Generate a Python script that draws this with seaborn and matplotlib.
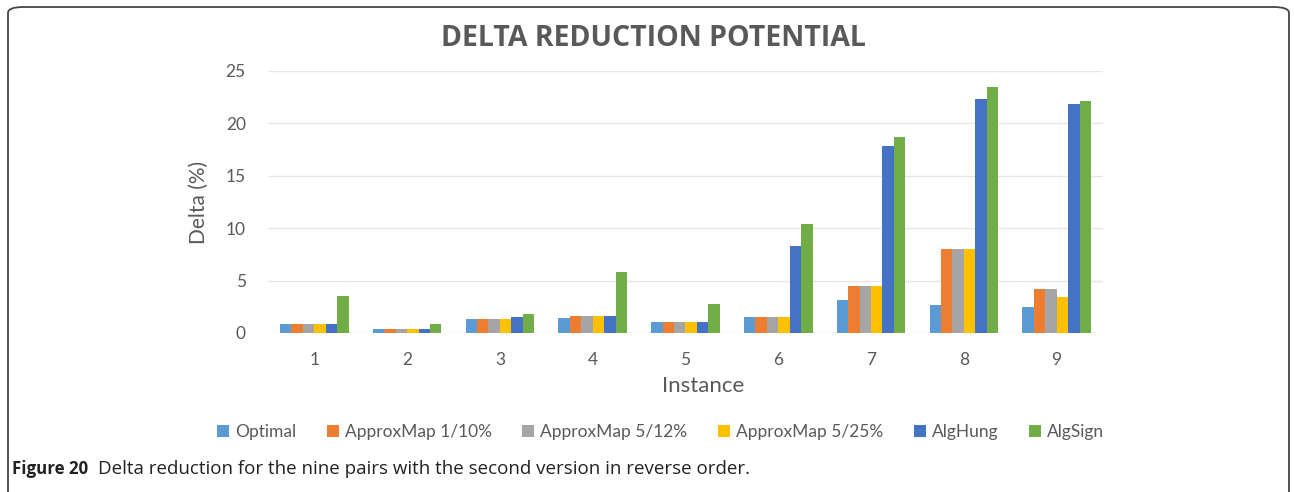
import pandas as pd
import seaborn as sns
import matplotlib.pyplot as plt
from matplotlib.patches import FancyBboxPatch

# Valeurs (Delta en %)
instances = ["1", "2", "3", "4", "5", "6", "7", "8", "9"]
optimal = [0.9, 0.41, 1.37, 1.43, 1.02, 1.56, 3.18, 2.68, 2.45]
approx_1_10 = [0.9, 0.41, 1.37, 1.66, 1.02, 1.56, 4.49, 7.99, 4.24]
approx_5_12 = [0.9, 0.41, 1.37, 1.66, 1.02, 1.56, 4.49, 7.99, 4.24]
approx_5_25 = [0.9, 0.41, 1.37, 1.66, 1.02, 1.56, 4.49, 7.99, 3.44]
alg_hung = [0.9, 0.41, 1.56, 1.66, 1.02, 8.28, 17.87, 22.32, 21.88]
alg_sign = [3.57, 0.89, 1.82, 5.86, 2.77, 10.41, 18.69, 23.47, 22.1]

series = {
    "Optimal": optimal,
    "ApproxMap 1/10%": approx_1_10,
    "ApproxMap 5/12%": approx_5_12,
    "ApproxMap 5/25%": approx_5_25,
    "AlgHung": alg_hung,
    "AlgSign": alg_sign,
}
colors = ["#5B9BD5", "#ED7D31", "#A5A5A5", "#FFC000", "#4472C4", "#70AD47"]

rows = []
for name, vals in series.items():
    for inst, v in zip(instances, vals):
        rows.append({"Instance": inst, "Delta": v, "Method": name})
df = pd.DataFrame(rows)

sns.set_style("white")
plt.rcParams["font.family"] = ["Lato", "DejaVu Sans"]
text_col = "#595959"

fig = plt.figure(figsize=(12.94, 4.92), dpi=100)
ax = fig.add_axes([0.2071, 0.3232, 0.6453, 0.5325])

sns.barplot(data=df, x="Instance", y="Delta", hue="Method",
            palette=colors, width=0.74, gap=0, saturation=1,
            linewidth=0, ax=ax, legend=True)

ax.set_ylim(0, 25)
ax.set_yticks([0, 5, 10, 15, 20, 25])
ax.yaxis.grid(True, color="#E6E6E6", linewidth=1)
ax.set_axisbelow(True)
for s in ax.spines.values():
    s.set_visible(False)
ax.tick_params(axis="both", length=0, labelsize=12.5, colors=text_col)
ax.tick_params(axis="x", pad=14)
ax.tick_params(axis="y", pad=16)
ax.set_xlabel("")
ax.set_ylabel("Delta (%)", fontsize=15, color=text_col, labelpad=12)
fig.text(0.543, 0.215, "Instance", ha="center", va="center",
         fontsize=16, color=text_col)

fig.text(0.505, 0.922, "DELTA REDUCTION POTENTIAL", ha="center", va="center",
         fontsize=20.5, fontweight="bold", color=text_col,
         family=["Open Sans", "DejaVu Sans"])

handles, labels = ax.get_legend_handles_labels()
ax.legend(handles, labels, ncol=6, loc="center", frameon=False,
          bbox_to_anchor=(0.5105, 0.122), bbox_transform=fig.transFigure,
          fontsize=12.5, handlelength=0.7, handleheight=0.7,
          handletextpad=0.35, columnspacing=1.75, labelcolor=text_col)

# Légende de la figure
fig.text(0.0095, 0.047, "Figure 20", fontsize=12.2, fontweight="bold",
         color="#222222", va="center", family=["Open Sans", "DejaVu Sans"])
fig.text(0.0755, 0.047, "Delta reduction for the nine pairs with the second version in reverse order.",
         fontsize=13.5, color="#222222", va="center",
         family=["Open Sans", "DejaVu Sans"])

# Cadre arrondi
frame = FancyBboxPatch((8 / 1294, -0.05), 1281 / 1294, 1.05 - 7 / 492,
                       boxstyle="round,pad=0,rounding_size=0.012",
                       transform=fig.transFigure, fill=False,
                       edgecolor="#444444", linewidth=1.3, clip_on=False)
fig.patches.append(frame)

plt.savefig("out.png", dpi=100)
